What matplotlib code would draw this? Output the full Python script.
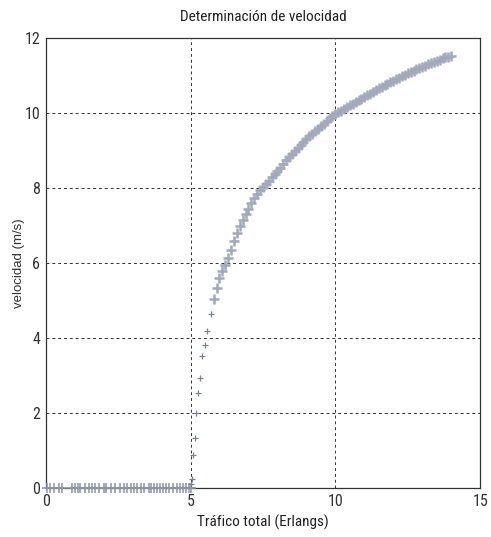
import matplotlib
matplotlib.use("Agg")
import matplotlib.pyplot as plt
from matplotlib import font_manager

# ---- data ----
zero_x = [0.05, 0.15, 0.3, 0.45, 0.55, 0.9, 1.0, 1.1, 1.2, 1.35, 1.5, 1.6, 1.7, 1.85,
          2.0, 2.1, 2.25, 2.4, 2.55, 2.7, 2.8, 2.95, 3.05, 3.15, 3.3, 3.4, 3.55, 3.65,
          3.75, 3.85, 3.95, 4.05, 4.15, 4.25, 4.4, 4.55, 4.65, 4.75, 4.85, 4.95, 5.0]
zero_y = [0.0] * len(zero_x)

rise_x = [5.02, 5.05, 5.1, 5.15, 5.2, 5.25, 5.32, 5.4, 5.5, 5.57, 5.7]
rise_y = [0.1, 0.25, 0.88, 1.33, 2.0, 2.54, 2.94, 3.52, 3.83, 4.19, 4.64]

curve_x = [5.8, 5.9, 6.0, 6.1, 6.2, 6.3, 6.4, 6.5, 6.6, 6.7, 6.8, 6.9, 7.0, 7.1, 7.2,
           7.3, 7.4, 7.5, 7.6, 7.7, 7.8, 7.9, 8.0, 8.1, 8.2, 8.3, 8.4, 8.5, 8.6, 8.7,
           8.8, 8.9, 9.0, 9.1, 9.2, 9.3, 9.4, 9.5, 9.6, 9.7, 9.8, 9.9, 10.0, 10.1,
           10.2, 10.3, 10.4, 10.5, 10.6, 10.7, 10.8, 10.9, 11.0, 11.1, 11.2, 11.3,
           11.4, 11.5, 11.6, 11.7, 11.8, 11.9, 12.0, 12.1, 12.2, 12.3, 12.4, 12.5,
           12.6, 12.7, 12.8, 12.9, 13.0, 13.1, 13.2, 13.3, 13.4, 13.5, 13.6, 13.7,
           13.8, 13.9, 14.0]
curve_y = [5.05, 5.35, 5.6, 5.8, 5.95, 6.15, 6.35, 6.6, 6.8, 6.98, 7.15, 7.3, 7.45,
           7.6, 7.75, 7.85, 7.95, 8.03, 8.1, 8.2, 8.3, 8.38, 8.45, 8.55, 8.65, 8.74,
           8.82, 8.91, 9.0, 9.08, 9.15, 9.23, 9.3, 9.38, 9.45, 9.52, 9.58, 9.65, 9.72,
           9.79, 9.86, 9.92, 9.97, 10.02, 10.07, 10.12, 10.16, 10.21, 10.25, 10.3,
           10.34, 10.39, 10.43, 10.48, 10.52, 10.57, 10.61, 10.66, 10.7, 10.74, 10.78,
           10.82, 10.86, 10.9, 10.94, 10.98, 11.02, 11.06, 11.1, 11.13, 11.17, 11.2,
           11.23, 11.27, 11.3, 11.33, 11.36, 11.4, 11.43, 11.47, 11.5, 11.51, 11.52]

x_ticks = [0, 5, 10, 15]
y_ticks = [0, 2, 4, 6, 8, 10, 12]
title = "Determinación de velocidad"
xlabel = "Tráfico total (Erlangs)"
ylabel = "velocidad (m/s)"

# ---- fonts ----
names = {f.name for f in font_manager.fontManager.ttflist}
narrow = "Liberation Sans"
for cand in ["Liberation Sans Narrow", "DejaVu Sans Condensed", "Roboto Condensed",
             "Open Sans Condensed", "Noto Sans Condensed"]:
    if cand in names:
        narrow = cand
        break

fig = plt.figure(figsize=(4.91, 5.37), dpi=100)
ax = fig.add_axes([0.093, 0.091, 0.885, 0.838])

ax.plot(zero_x, zero_y, linestyle="none", marker="+", color="#8d93a3", markersize=7,
        markeredgewidth=1.1, clip_on=False, zorder=3)
ax.plot(rise_x, rise_y, linestyle="none", marker="+", color="#7d8290", markersize=5,
        markeredgewidth=0.9, clip_on=False, zorder=3)
ax.plot(curve_x, curve_y, linestyle="none", marker="+", color="#a3a9ba", markersize=7,
        markeredgewidth=1.8, zorder=3)

ax.set_xlim(0, 15)
ax.set_ylim(0, 12)
ax.set_xticks(x_ticks)
ax.set_yticks(y_ticks)
ax.set_xticklabels([str(t) for t in x_ticks], fontfamily=narrow, fontsize=11.5)
ax.set_yticklabels([str(t) for t in y_ticks], fontfamily=narrow, fontsize=11.5)
ax.tick_params(direction="in", length=0, pad=4, colors="#333333")
ax.grid(True, color="#333333", linestyle=(0, (3, 3)), linewidth=0.7)
for s in ax.spines.values():
    s.set_color("#333333")
    s.set_linewidth(0.9)

ax.set_title(title, fontfamily=narrow, fontsize=11, pad=12, color="#222222")
ax.set_xlabel(xlabel, fontfamily=narrow, fontsize=11, labelpad=4, color="#222222")
ax.set_ylabel(ylabel, fontfamily="Liberation Sans", fontsize=9.5, color="#333333")
ax.yaxis.set_label_coords(-0.048, 0.5)

fig.savefig("out.png", dpi=100)
